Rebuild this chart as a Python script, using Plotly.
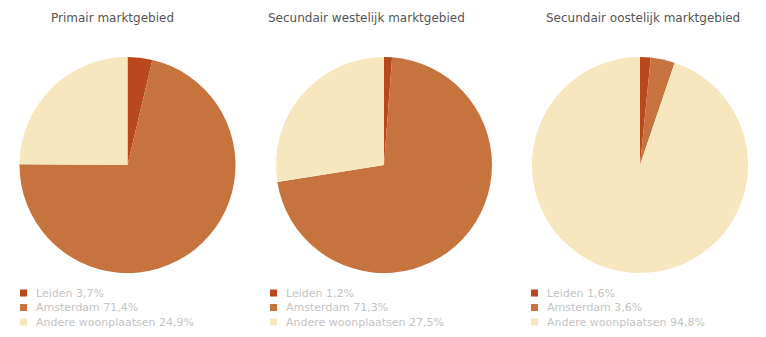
import plotly.graph_objects as go

titles = ["Primair marktgebied", "Secundair westelijk marktgebied", "Secundair oostelijk marktgebied"]
categories = ["Leiden", "Amsterdam", "Andere woonplaatsen"]
primair = [3.7, 71.4, 24.9]
westelijk = [1.2, 71.3, 27.5]
oostelijk = [1.6, 3.6, 94.8]
colors = ["#B9481C", "#C6733E", "#F6E7BF"]

W, H = 766, 337
series = [primair, westelijk, oostelijk]
x_px = [(19, 236), (276, 492), (532, 748)]
y_px = (57, 273)
title_cx = [113, 366, 643]
legend_x = [20, 270, 531]
legend_rows = [293, 307.5, 322]

fig = go.Figure()
for i, vals in enumerate(series):
    labels = [f"{c} {str(v).replace('.', ',')}%" for c, v in zip(categories, vals)]
    fig.add_trace(go.Pie(
        labels=labels, values=vals, sort=False, direction="clockwise", rotation=0,
        textinfo="none", marker=dict(colors=colors, line=dict(width=0)),
        domain=dict(x=[x_px[i][0] / W, x_px[i][1] / W], y=[1 - y_px[1] / H, 1 - y_px[0] / H]),
        showlegend=False,
    ))
    fig.add_annotation(text=titles[i], x=title_cx[i] / W, y=1 - 18 / H, xref="paper", yref="paper",
                       showarrow=False, xanchor="center", yanchor="middle",
                       font=dict(family="DejaVu Sans", size=12, color="#555555"))
    # manual legend
    for j, lab in enumerate(labels):
        yc = legend_rows[j]
        x0 = legend_x[i]
        fig.add_shape(type="rect", xref="paper", yref="paper",
                      x0=x0 / W, x1=(x0 + 7) / W, y0=1 - (yc + 3.5) / H, y1=1 - (yc - 3.5) / H,
                      fillcolor=colors[j], line=dict(width=0))
        fig.add_annotation(text=lab, x=(x0 + 14) / W, y=1 - yc / H, xref="paper", yref="paper",
                           showarrow=False, xanchor="left", yanchor="middle",
                           font=dict(family="DejaVu Sans", size=11, color="#c4c4c4"))

fig.update_layout(width=W, height=H, margin=dict(l=0, r=0, t=0, b=0),
                  paper_bgcolor="white", plot_bgcolor="white", showlegend=False)
fig.write_html("out.html")
